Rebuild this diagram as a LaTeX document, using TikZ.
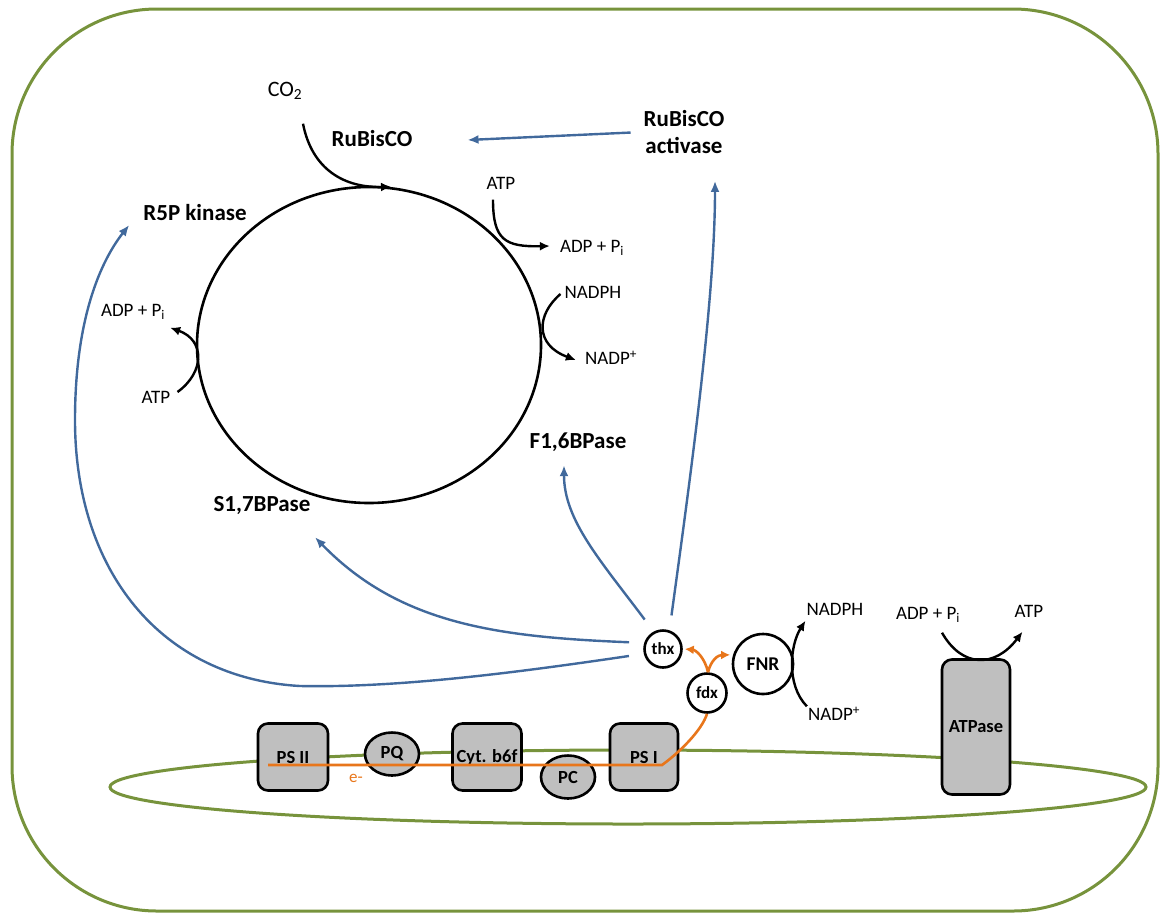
\documentclass[tikz,border=0pt]{standalone}
\usepackage{fontspec}
\setmainfont{Carlito}
\usetikzlibrary{arrows.meta,shapes.geometric}
\definecolor{leafgreen}{HTML}{77933C}
\definecolor{regblue}{HTML}{41699C}
\definecolor{eorange}{HTML}{E8761B}
\definecolor{protgray}{HTML}{BFBFBF}

\begin{document}
\begin{tikzpicture}[
    x=1pt,y=-1pt,
    boundary/.style={draw=leafgreen,line width=3pt},
    cycle/.style={ellipse,draw,line width=2.6pt,inner sep=0pt},
    reaction/.style={line width=2.4pt,-{Latex[length=10pt,width=9pt]}},
    regulation/.style={draw=regblue,line width=2.4pt,-{Latex[length=11pt,width=9pt]},
        shorten <=15pt},
    electron/.style={draw=eorange,line width=2.6pt},
    transfer/.style={electron,-{Latex[length=9pt,width=9pt]}},
    enzyme/.style={font=\fontsize{23}{27}\selectfont\bfseries,inner sep=1pt,
        text height=16pt,text depth=4pt},
    metabolite/.style={font=\fontsize{19}{22}\selectfont,inner sep=1pt,
        text height=13pt,text depth=4pt},
    carrier/.style={circle,draw,line width=2.6pt,fill=white,inner sep=0pt,
        font=\fontsize{17}{20}\selectfont\bfseries},
    complex/.style={rectangle,rounded corners=10pt,draw,line width=2.6pt,
        fill=protgray,inner sep=0pt,font=\fontsize{18.5}{22}\selectfont\bfseries},
    mobile/.style={ellipse,draw,line width=2.6pt,fill=protgray,inner sep=0pt,
        minimum width=54pt,minimum height=43pt,font=\fontsize{18.5}{22}\selectfont\bfseries}
]
    \useasboundingbox (0,0) rectangle (1166,919);
    \draw[boundary,rounded corners=145pt] (12,9) rectangle (1158,911);

    % Calvin cycle
    \node[cycle,minimum width=344pt,minimum height=316pt] (calvin) at (369,345) {};
    \node[metabolite,font=\fontsize{22}{26}\selectfont] (co2) at (285,92) {CO\textsubscript{2}};
    \node[enzyme] (rubisco) at (372,140) {RuBisCO};
    \node[enzyme,align=center,text height=,text depth=] (activase) at (684,132) {RuBisCO\\activase};
    \node[enzyme] (r5p) at (195,214) {R5P kinase};
    \node[enzyme] (f16) at (578,442) {F1,6BPase};
    \node[enzyme] (s17) at (262,505) {S1,7BPase};

    \node[metabolite] (atp1) at (501,185) {ATP};
    \node[metabolite] (adp1) at (592,248) {ADP + P\textsubscript{i}};
    \node[metabolite] (nadph1) at (593,294) {NADPH};
    \node[metabolite] (nadp1) at (611,360) {NADP\textsuperscript{+}};
    \node[metabolite] (adp2) at (133,312) {ADP + P\textsubscript{i}};
    \node[metabolite] (atp2) at (156,399) {ATP};

    \draw[reaction] ([xshift=18pt,yshift=-22pt]co2.south) .. controls (312,170) and (345,188)
        .. ([xshift=22pt,yshift=-1pt]calvin.north);
    \draw[reaction] ([xshift=-8pt,yshift=-5pt]atp1.south) .. controls (493,240) and (505,247)
        .. ([xshift=-9pt,yshift=2pt]adp1.west);
    \draw[reaction] ([xshift=-3pt]nadph1.west) .. controls (536,315) and (535,345)
        .. ([xshift=-8pt]nadp1.west);
    \draw[reaction] ([xshift=6pt,yshift=7pt]atp2.east) .. controls (205,372) and (205,340)
        .. ([xshift=4pt,yshift=-6pt]adp2.south east);

    % thylakoid membrane
    \draw[draw=leafgreen,line width=3pt] (628,787) ellipse [x radius=518,y radius=37];
    \node[complex,minimum width=70pt,minimum height=67pt] (ps2) at (293,757) {PS II};
    \node[mobile] (pq) at (392,754) {PQ};
    \node[complex,minimum width=69pt,minimum height=67pt] (cyt) at (487,757) {Cyt. b6f};
    \node[mobile] (pc) at (568,777) {PC};
    \node[complex,minimum width=68pt,minimum height=67pt] (ps1) at (644,757) {PS I};
    \node[complex,minimum width=68pt,minimum height=135pt] (atpase) at (976,727) {ATPase};

    % electron carriers
    \node[carrier,minimum size=37pt] (thx) at (663,649) {thx};
    \node[carrier,minimum size=39pt] (fdx) at (707,693) {fdx};
    \node[carrier,minimum size=60pt,font=\fontsize{19.5}{22}\selectfont\bfseries] (fnr) at (763,664) {FNR};
    \node[metabolite] (nadph2) at (835,611) {NADPH};
    \node[metabolite] (nadp2) at (834,716) {NADP\textsuperscript{+}};
    \node[metabolite] (adp3) at (928,615) {ADP + P\textsubscript{i}};
    \node[metabolite] (atp3) at (1029,613) {ATP};

    \draw[electron] ([xshift=-25pt,yshift=-8pt]ps2.center) -- ([xshift=18pt,yshift=-8pt]ps1.center)
        .. controls (680,752) and (702,730) .. (fdx.south);
    \node[text=eorange,font=\fontsize{17}{20}\selectfont,inner sep=1pt] (eminus) at (356,778) {e-};
    \draw[transfer] ([xshift=1pt]fdx.north) .. controls (705,658) and (696,650) .. ([xshift=2pt]thx.east);
    \draw[transfer] ([xshift=1pt]fdx.north) .. controls (711,660) and (718,655) .. ([xshift=-3pt]fnr.163);

    \draw[reaction] (nadp2.north west) .. controls (786,685) and (790,645) .. (nadph2.south west);
    \draw[reaction] ([xshift=14pt,yshift=-8pt]adp3.south) .. controls (962,668) and (995,668)
        .. ([xshift=9pt,yshift=-9pt]atp3.south west);

    % thioredoxin regulation
    \draw[regulation,shorten <=12pt] (activase.west) -- ([xshift=54pt]rubisco.east);
    \draw[regulation] (thx.71) .. controls (690,480) and (715,300)
        .. ([xshift=31pt,yshift=-26pt]activase.south);
    \draw[regulation] (thx.118) .. controls (600,560) and (564,520)
        .. ([xshift=-14pt,yshift=-12pt]f16.south);
    \draw[regulation] (thx.162) .. controls (500,637) and (400,625)
        .. ([xshift=53pt,yshift=-21pt]s17.south);
    \draw[regulation] (thx.194) .. controls (520,672) and (400,688) .. (300,686)
        .. controls (160,678) and (75,570) .. (75,420)
        .. controls (75,320) and (100,262) .. ([xshift=-13pt,yshift=-11pt]r5p.west);
\end{tikzpicture}
\end{document}
